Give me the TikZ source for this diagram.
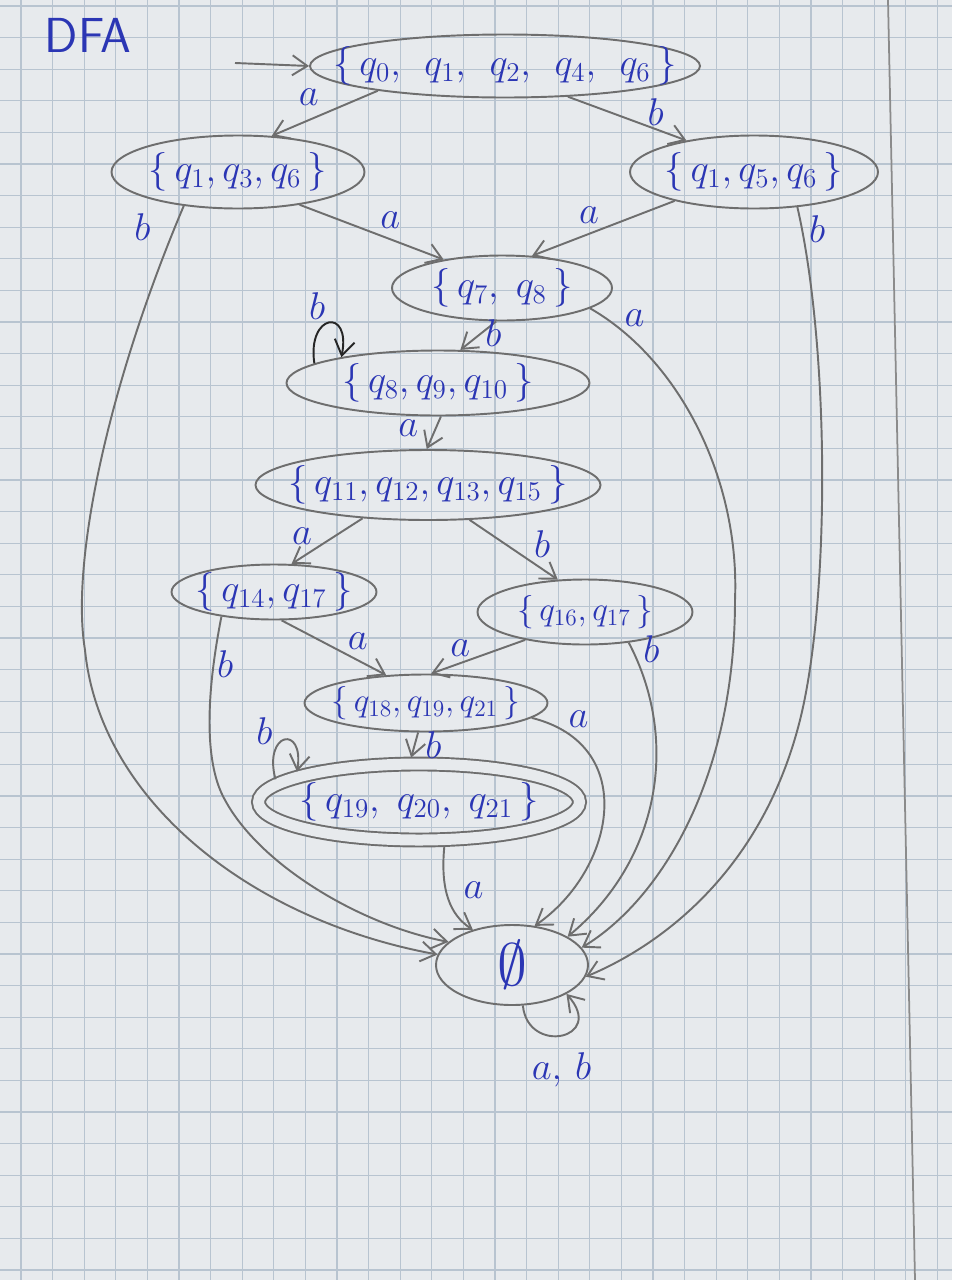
\RequirePackage{fix-cm}
\documentclass[tikz,border=0pt]{standalone}
\usetikzlibrary{arrows.meta,shapes.geometric}
\newcommand{\dset}[1]{\makebox[0pt]{$\{\,#1\,\}$}}
\begin{document}
\begin{tikzpicture}[
  state/.style={draw=pencil, ellipse, line width=1.1pt, inner sep=0pt, text=ink,
    font=\fontsize{22}{26}\selectfont},
  narrow/.style={font=\fontsize{19}{22}\selectfont},
  accepting/.style={double=paper, double distance=0.22cm, outer sep=0.13cm},
  trans/.style={draw=pencil, line width=1.1pt, -{Straight Barb[length=3mm,width=4mm]}},
  lbl/.style={text=ink, inner sep=1.5pt, font=\fontsize{22}{26}\selectfont},
  gridline/.style={draw=gridcol, line width=0.6pt}]
\definecolor{paper}{HTML}{E7EAED}
\definecolor{gridcol}{HTML}{B8C4D0}
\definecolor{pencil}{HTML}{6E6E6E}
\definecolor{ink}{HTML}{2B36B4}
\useasboundingbox (0,0) rectangle (19.04,-25.6);
\fill[paper] (0,0) rectangle (19.04,-25.6);
\foreach \gx in {0,...,29}
  \draw[gridline] (0.42+\gx*0.632,0) -- (0.42+\gx*0.632,-25.6);
\foreach \gy in {0,...,40}
  \draw[gridline] (0,-0.12-\gy*0.632) -- (19.04,-0.12-\gy*0.632);
\draw[draw=pencil!80, line width=1pt] (17.76,0) -- (18.3,-25.6);

\node[lbl, font=\sffamily\fontsize{28}{32}\selectfont] (title) at (1.76,-0.7) {DFA};

\node[state, minimum width=7.8cm, minimum height=1.26cm] (s0) at (10.1,-1.32) {\dset{q_0,\;\, q_1,\;\, q_2,\;\, q_4,\;\, q_6}};
\node[state, minimum width=5.06cm, minimum height=1.46cm] (s1) at (4.76,-3.44) {\dset{q_1, q_3, q_6}};
\node[state, minimum width=4.96cm, minimum height=1.46cm] (s2) at (15.08,-3.44) {\dset{q_1, q_5, q_6}};
\node[state, minimum width=4.4cm, minimum height=1.3cm] (s3) at (10.04,-5.76) {\dset{q_7,\; q_8}};
\node[state, minimum width=6.06cm, minimum height=1.3cm] (s4) at (8.76,-7.66) {\dset{q_8, q_9, q_{10}}};
\node[state, minimum width=6.9cm, minimum height=1.4cm] (s5) at (8.56,-9.7) {\dset{q_{11}, q_{12}, q_{13}, q_{15}}};
\node[state, minimum width=4.1cm, minimum height=1.1cm] (s6) at (5.48,-11.84) {\dset{q_{14}, q_{17}}};
\node[state, narrow, minimum width=4.3cm, minimum height=1.3cm] (s7) at (11.7,-12.24) {\dset{q_{16}, q_{17}}};
\node[state, narrow, minimum width=4.86cm, minimum height=1.14cm] (s8) at (8.52,-14.06) {\dset{q_{18}, q_{19}, q_{21}}};
\node[state, accepting, minimum width=6.42cm, minimum height=1.52cm] (s9) at (8.38,-16.04) {\dset{q_{19},\; q_{20},\; q_{21}}};
\node[state, minimum width=3.04cm, minimum height=1.6cm, font=\fontsize{34}{38}\selectfont] (s10) at (10.24,-19.3) {$\emptyset$};

\coordinate (init) at (4.7,-1.26);
\draw[trans] (init) -- (s0.west);
\draw[trans] (s0.191) -- (s1.47) node[lbl, pos=0.65, above=6pt] {$a$};
\draw[trans] (s0.334) -- (s2.155) node[lbl, pos=0.74, above=0pt] {$b$};
\draw[trans] (s1.332) -- (s3.154) node[lbl, pos=0.63, above=4pt] {$a$};
\draw[trans] (s2.200) -- (s3.47) node[lbl, pos=0.6, above=4pt] {$a$};
\draw[trans] (s1.212) .. controls (2.2,-7.6) and (1.4,-11.2) .. (1.7,-13.0) node[lbl, pos=0.04, left=12pt] {$b$}
  .. controls (2.0,-16.0) and (5.0,-18.4) .. (s10.172);
\draw[trans] (s2.321) .. controls (16.6,-7.0) and (16.6,-12.0) .. (16.0,-14.4) node[lbl, pos=0.05, right=2pt] {$b$}
  .. controls (15.2,-17.6) and (13.0,-19.0) .. (s10.351);
\draw[trans] (s3.347) .. controls (13.6,-7.2) and (14.8,-9.6) .. (14.7,-12.0) node[lbl, pos=0.12, above right=0pt] {$a$}
  .. controls (14.7,-15.6) and (13.2,-18.0) .. (s10.14);
\draw[trans] (s3.260) -- (s4.56) node[lbl, pos=0.4, right=0pt] {$b$};
\draw[trans, draw=black!85] (s4.171) .. controls +(-0.15,1.0) and +(0.2,1.0) .. (s4.165) node[lbl, pos=0.5, above left=0pt] {$b$};
\draw[trans] (s4.275) -- (s5.92) node[lbl, pos=0.35, left=8pt] {$a$};
\draw[trans] (s5.207) -- (s6.58) node[lbl, pos=0.66, above left=0pt] {$a$};
\draw[trans] (s5.320) -- (s7.130) node[lbl, pos=0.69, above right=0pt] {$b$};
\draw[trans] (s6.285) -- (s8.145) node[lbl, pos=0.6, above right=0pt] {$a$};
\draw[trans] (s7.205) -- (s8.80) node[lbl, pos=0.69, above=2pt] {$a$};
\draw[trans] (s6.205) .. controls (4.1,-14.0) and (4.1,-15.3) .. (4.5,-16.0) node[lbl, pos=0.2, right=0pt] {$b$}
  .. controls (5.2,-17.3) and (7.2,-18.5) .. (s10.160);
\draw[trans] (s7.325) .. controls (13.6,-14.8) and (13.2,-17.2) .. (s10.27) node[lbl, pos=0.08, above right=0pt] {$b$};
\draw[trans] (s8.352) .. controls (12.8,-14.9) and (12.3,-17.4) .. (s10.60) node[lbl, pos=0.12, above right=0pt] {$a$};
\draw[trans] (s8.255) -- (s9.100) node[lbl, pos=0.5, right=4pt] {$b$};
\draw[trans] (s9.171) .. controls +(-0.25,0.95) and +(0.15,0.95) .. (s9.166) node[lbl, pos=0.3, above left=0pt] {$b$};
\draw[trans] (s9.300) .. controls (8.8,-17.8) and (9.0,-18.3) .. (s10.138) node[lbl, pos=0.4, right=8pt] {$a$};
\draw[trans] (s10.285) .. controls +(0.1,-1.0) and +(0.8,-0.9) .. (s10.332) node[lbl, pos=0.5, below=8pt] {$a,\,b$};
\end{tikzpicture}
\end{document}
